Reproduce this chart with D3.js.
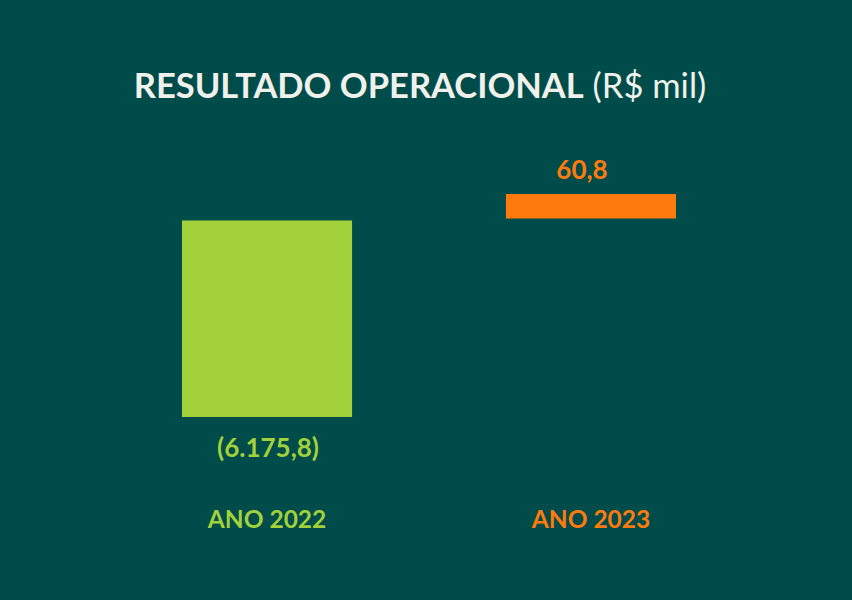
<!DOCTYPE html>
<html>
<head>
<meta charset="utf-8">
<script src="https://cdn.jsdelivr.net/npm/d3@7"></script>
<style>
  html, body { margin: 0; padding: 0; background: #004C4A; }
  svg { display: block; }
</style>
</head>
<body>
<svg id="chart" width="852" height="600"></svg>
<script>
// ---- data ----
const categories = ["ANO 2022", "ANO 2023"];
const values = [-6175.8, 60.8];
const valueLabels = ["(6.175,8)", "60,8"];
const titleBold = "RESULTADO OPERACIONAL";
const titleRegular = " (R$ mil)";

// ---- styles ----
const BG = "#004C4A";
const colors = ["#A3D13A", "#FF7A0C"];
const FONT = "Lato, 'Open Sans', sans-serif";

const svg = d3.select("#chart");
svg.append("rect").attr("width", 852).attr("height", 600).attr("fill", BG);

const x = d3.scaleBand()
  .domain(categories)
  .range([101, 757])
  .paddingInner(0.475)
  .paddingOuter(0.25);

const y = d3.scalePow()
  .exponent(0.443)
  .domain([d3.min(values), d3.max(values)])
  .range([417, 194]);

// title
const title = svg.append("text")
  .attr("x", 420)
  .attr("y", 98)
  .attr("text-anchor", "middle")
  .attr("fill", "#F1F1EC")
  .attr("font-family", FONT)
  .attr("font-size", 34.5);
title.append("tspan").attr("font-weight", 700).text(titleBold);
title.append("tspan").attr("font-weight", 400).text(titleRegular);

const data = categories.map((c, i) => ({ c, v: values[i], label: valueLabels[i], color: colors[i] }));

// bars
svg.selectAll("rect.bar")
  .data(data)
  .join("rect")
  .attr("class", "bar")
  .attr("x", d => x(d.c))
  .attr("width", x.bandwidth())
  .attr("y", d => d.v >= 0 ? y(d.v) : y(0) + 1)
  .attr("height", d => Math.abs(y(d.v) - y(0)) - (d.v >= 0 ? 1 : 1))
  .attr("fill", d => d.color);

// value labels
svg.selectAll("text.value")
  .data(data)
  .join("text")
  .attr("class", "value")
  .attr("x", d => x(d.c) + x.bandwidth() / 2 + (d.v >= 0 ? -9 : 1))
  .attr("y", d => d.v >= 0 ? y(d.v) - 15 : y(d.v) + 40)
  .attr("text-anchor", "middle")
  .attr("fill", d => d.color)
  .attr("font-family", FONT)
  .attr("font-weight", 700)
  .attr("font-size", 26)
  .text(d => d.label);

// category labels (axis)
const axis = svg.append("g")
  .attr("transform", "translate(0,528)")
  .call(d3.axisBottom(x).tickSize(0).tickPadding(0));
axis.select(".domain").remove();
axis.selectAll(".tick text")
  .attr("dy", 0)
  .attr("y", 0)
  .attr("fill", (d, i) => colors[i])
  .attr("font-family", FONT)
  .attr("font-weight", 700)
  .attr("font-size", 24.5);
</script>
</body>
</html>
